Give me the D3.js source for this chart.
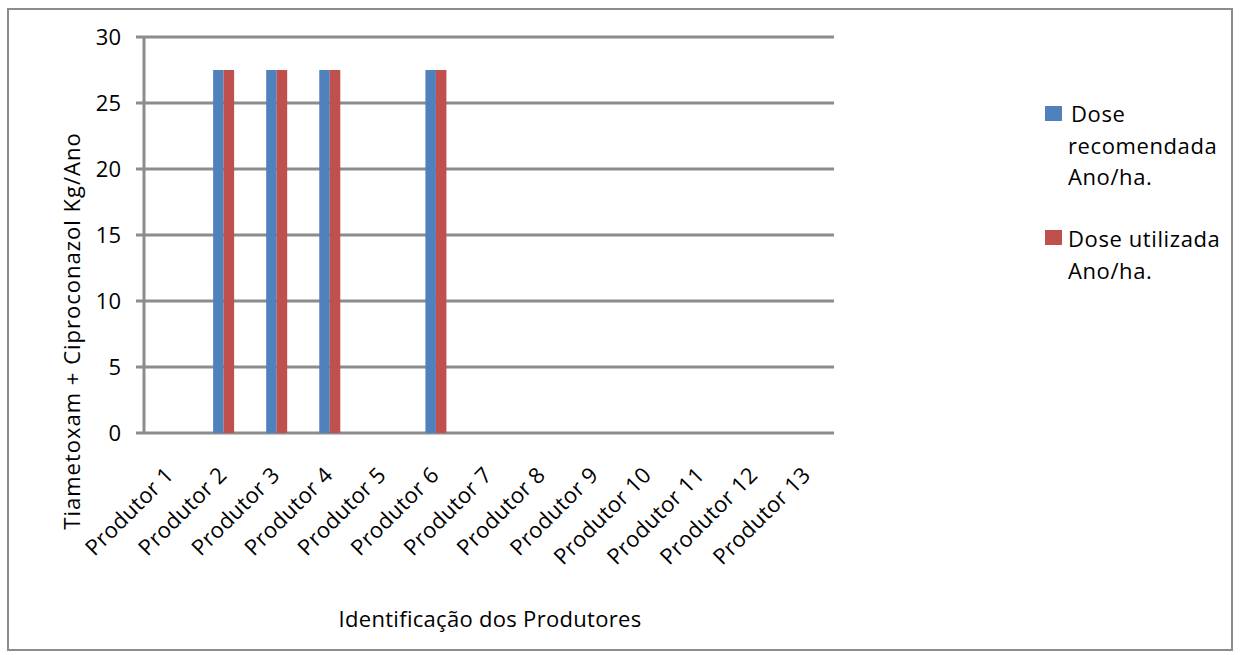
<!DOCTYPE html>
<html>
<head>
<meta charset="utf-8">
<script src="https://cdn.jsdelivr.net/npm/d3@7"></script>
<style>
  html, body { margin: 0; padding: 0; background: #fff; }
  svg { display: block; }
  text { font-family: "Open Sans", "DejaVu Sans", sans-serif; fill: #000; }
</style>
</head>
<body>
<svg id="chart" width="1240" height="655"></svg>
<script>
// Producers surveyed
const categories = ["Produtor 1", "Produtor 2", "Produtor 3", "Produtor 4", "Produtor 5",
  "Produtor 6", "Produtor 7", "Produtor 8", "Produtor 9", "Produtor 10",
  "Produtor 11", "Produtor 12", "Produtor 13"];

// Tiametoxam + Ciproconazol, kg per year
const doseRecomendada = [0, 27.5, 27.5, 27.5, 0, 27.5, 0, 0, 0, 0, 0, 0, 0];
const doseUtilizada   = [0, 27.5, 27.5, 27.5, 0, 27.5, 0, 0, 0, 0, 0, 0, 0];

const seriesNames = [["Dose", "recomendada", "Ano/ha."], ["Dose utilizada", "Ano/ha."]];
const seriesColors = ["#4F81BD", "#C0504D"];
const yTicks = [0, 5, 10, 15, 20, 25, 30];

const svg = d3.select("#chart");
const FS = 22;

// outer frame
svg.append("rect")
  .attr("x", 8).attr("y", 9).attr("width", 1224).attr("height", 641)
  .attr("fill", "#fff").attr("stroke", "#8c8c8c").attr("stroke-width", 2);

const plotLeft = 144, plotRight = 834, plotTop = 37, plotBottom = 433;

const x = d3.scaleBand().domain(categories).range([plotLeft, plotRight]);
const y = d3.scaleLinear().domain([0, 30]).range([plotBottom, plotTop]);

// horizontal gridlines with outward tick stubs
svg.append("g").selectAll("line").data(yTicks).join("line")
  .attr("x1", plotLeft - 8).attr("x2", plotRight)
  .attr("y1", d => y(d)).attr("y2", d => y(d))
  .attr("stroke", "#8c8c8c").attr("stroke-width", 3);

// value axis line
svg.append("line")
  .attr("x1", plotLeft).attr("x2", plotLeft)
  .attr("y1", plotTop).attr("y2", plotBottom)
  .attr("stroke", "#8c8c8c").attr("stroke-width", 3);

// y tick labels
svg.append("g").selectAll("text").data(yTicks).join("text")
  .attr("x", plotLeft - 23).attr("y", d => y(d))
  .attr("dy", "0.35em").attr("text-anchor", "end")
  .attr("font-size", FS)
  .text(d => d);

// bars
const barW = 10.5;
const sub = d3.scaleBand().domain([0, 1]).range([-barW, barW]);
const series = [doseRecomendada, doseUtilizada];
series.forEach((vals, si) => {
  svg.append("g").selectAll("rect").data(vals.map((v, i) => ({ v, c: categories[i] })))
    .join("rect")
    .filter(d => d.v > 0)
    .attr("x", d => x(d.c) + x.bandwidth() / 2 + sub(si))
    .attr("y", d => y(d.v))
    .attr("width", sub.bandwidth())
    .attr("height", d => y(0) - y(d.v))
    .attr("fill", seriesColors[si]);
});

// category labels, rotated
svg.append("g").selectAll("text").data(categories).join("text")
  .attr("transform", d => `translate(${x(d) + x.bandwidth() / 2 - 1},${plotBottom + 38}) rotate(-45)`)
  .attr("text-anchor", "end")
  .attr("dy", "0.35em")
  .attr("font-size", FS)
  .attr("letter-spacing", 0.3)
  .text(d => d);

// axis titles
svg.append("text")
  .attr("transform", `translate(80,331) rotate(-90)`)
  .attr("text-anchor", "middle")
  .attr("font-size", FS)
  .attr("letter-spacing", 1)
  .text("Tiametoxam + Ciproconazol Kg/Ano");

svg.append("text")
  .attr("x", 490).attr("y", 627)
  .attr("text-anchor", "middle")
  .attr("font-size", FS)
  .attr("letter-spacing", 0.3)
  .text("Identificação dos Produtores");

// legend
const legendBox = [106, 230];
const legendBase = [122, 247];
seriesNames.forEach((lines, i) => {
  const g = svg.append("g");
  g.append("rect")
    .attr("x", 1045).attr("y", legendBox[i]).attr("width", 17).attr("height", 15)
    .attr("fill", seriesColors[i]);
  lines.forEach((t, j) => {
    g.append("text")
      .attr("x", (i === 0 && j === 0) ? 1071 : 1068)
      .attr("y", legendBase[i] + j * 31.5)
      .attr("font-size", FS)
      .attr("letter-spacing", 0.6)
      .text(t);
  });
});
</script>
</body>
</html>
